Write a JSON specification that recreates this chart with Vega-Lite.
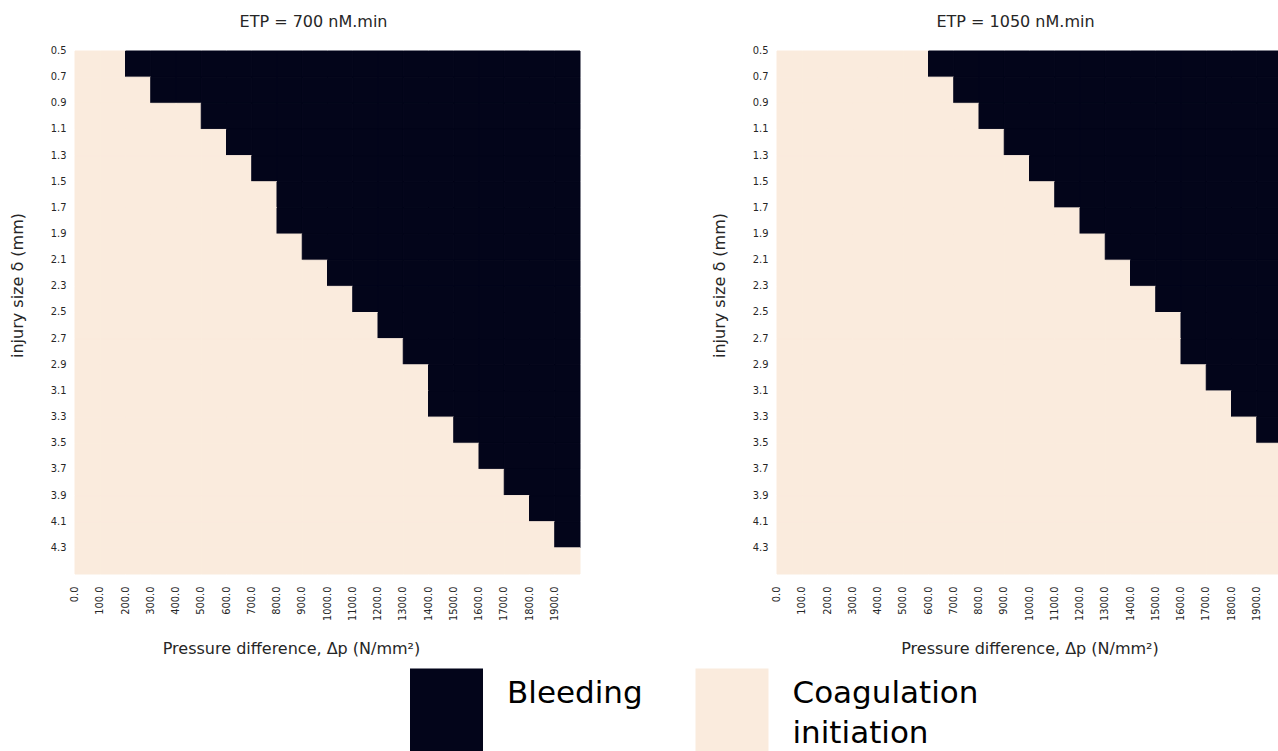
{
"$schema":"https://vega.github.io/schema/vega-lite/v6.json",
"background":"white",
"padding":{"left":9,"top":13,"right":0,"bottom":0},
"config":{
 "view":{"stroke":null},
 "font":"DejaVu Sans",
 "axis":{"labelFont":"DejaVu Sans","labelFontSize":9.9,"labelColor":"#262626","titleFont":"DejaVu Sans","titleFontSize":16,"titleFontWeight":"normal","titleColor":"#262626","ticks":false,"domain":false,"grid":false},
 "style":{"guide-label":{"lineHeight":40}},
 "title":{"font":"DejaVu Sans","fontSize":16,"fontWeight":"normal","color":"#262626","offset":15.5,"dx":-14}
},
"data":{"values":[
{"e":700,"p":0,"d":0.5,"b":0},{"e":700,"p":100,"d":0.5,"b":0},{"e":700,"p":200,"d":0.5,"b":1},{"e":700,"p":300,"d":0.5,"b":1},{"e":700,"p":400,"d":0.5,"b":1},{"e":700,"p":500,"d":0.5,"b":1},{"e":700,"p":600,"d":0.5,"b":1},{"e":700,"p":700,"d":0.5,"b":1},{"e":700,"p":800,"d":0.5,"b":1},{"e":700,"p":900,"d":0.5,"b":1},{"e":700,"p":1000,"d":0.5,"b":1},{"e":700,"p":1100,"d":0.5,"b":1},{"e":700,"p":1200,"d":0.5,"b":1},{"e":700,"p":1300,"d":0.5,"b":1},{"e":700,"p":1400,"d":0.5,"b":1},{"e":700,"p":1500,"d":0.5,"b":1},{"e":700,"p":1600,"d":0.5,"b":1},{"e":700,"p":1700,"d":0.5,"b":1},{"e":700,"p":1800,"d":0.5,"b":1},{"e":700,"p":1900,"d":0.5,"b":1},
{"e":700,"p":0,"d":0.7,"b":0},{"e":700,"p":100,"d":0.7,"b":0},{"e":700,"p":200,"d":0.7,"b":0},{"e":700,"p":300,"d":0.7,"b":1},{"e":700,"p":400,"d":0.7,"b":1},{"e":700,"p":500,"d":0.7,"b":1},{"e":700,"p":600,"d":0.7,"b":1},{"e":700,"p":700,"d":0.7,"b":1},{"e":700,"p":800,"d":0.7,"b":1},{"e":700,"p":900,"d":0.7,"b":1},{"e":700,"p":1000,"d":0.7,"b":1},{"e":700,"p":1100,"d":0.7,"b":1},{"e":700,"p":1200,"d":0.7,"b":1},{"e":700,"p":1300,"d":0.7,"b":1},{"e":700,"p":1400,"d":0.7,"b":1},{"e":700,"p":1500,"d":0.7,"b":1},{"e":700,"p":1600,"d":0.7,"b":1},{"e":700,"p":1700,"d":0.7,"b":1},{"e":700,"p":1800,"d":0.7,"b":1},{"e":700,"p":1900,"d":0.7,"b":1},
{"e":700,"p":0,"d":0.9,"b":0},{"e":700,"p":100,"d":0.9,"b":0},{"e":700,"p":200,"d":0.9,"b":0},{"e":700,"p":300,"d":0.9,"b":0},{"e":700,"p":400,"d":0.9,"b":0},{"e":700,"p":500,"d":0.9,"b":1},{"e":700,"p":600,"d":0.9,"b":1},{"e":700,"p":700,"d":0.9,"b":1},{"e":700,"p":800,"d":0.9,"b":1},{"e":700,"p":900,"d":0.9,"b":1},{"e":700,"p":1000,"d":0.9,"b":1},{"e":700,"p":1100,"d":0.9,"b":1},{"e":700,"p":1200,"d":0.9,"b":1},{"e":700,"p":1300,"d":0.9,"b":1},{"e":700,"p":1400,"d":0.9,"b":1},{"e":700,"p":1500,"d":0.9,"b":1},{"e":700,"p":1600,"d":0.9,"b":1},{"e":700,"p":1700,"d":0.9,"b":1},{"e":700,"p":1800,"d":0.9,"b":1},{"e":700,"p":1900,"d":0.9,"b":1},
{"e":700,"p":0,"d":1.1,"b":0},{"e":700,"p":100,"d":1.1,"b":0},{"e":700,"p":200,"d":1.1,"b":0},{"e":700,"p":300,"d":1.1,"b":0},{"e":700,"p":400,"d":1.1,"b":0},{"e":700,"p":500,"d":1.1,"b":0},{"e":700,"p":600,"d":1.1,"b":1},{"e":700,"p":700,"d":1.1,"b":1},{"e":700,"p":800,"d":1.1,"b":1},{"e":700,"p":900,"d":1.1,"b":1},{"e":700,"p":1000,"d":1.1,"b":1},{"e":700,"p":1100,"d":1.1,"b":1},{"e":700,"p":1200,"d":1.1,"b":1},{"e":700,"p":1300,"d":1.1,"b":1},{"e":700,"p":1400,"d":1.1,"b":1},{"e":700,"p":1500,"d":1.1,"b":1},{"e":700,"p":1600,"d":1.1,"b":1},{"e":700,"p":1700,"d":1.1,"b":1},{"e":700,"p":1800,"d":1.1,"b":1},{"e":700,"p":1900,"d":1.1,"b":1},
{"e":700,"p":0,"d":1.3,"b":0},{"e":700,"p":100,"d":1.3,"b":0},{"e":700,"p":200,"d":1.3,"b":0},{"e":700,"p":300,"d":1.3,"b":0},{"e":700,"p":400,"d":1.3,"b":0},{"e":700,"p":500,"d":1.3,"b":0},{"e":700,"p":600,"d":1.3,"b":0},{"e":700,"p":700,"d":1.3,"b":1},{"e":700,"p":800,"d":1.3,"b":1},{"e":700,"p":900,"d":1.3,"b":1},{"e":700,"p":1000,"d":1.3,"b":1},{"e":700,"p":1100,"d":1.3,"b":1},{"e":700,"p":1200,"d":1.3,"b":1},{"e":700,"p":1300,"d":1.3,"b":1},{"e":700,"p":1400,"d":1.3,"b":1},{"e":700,"p":1500,"d":1.3,"b":1},{"e":700,"p":1600,"d":1.3,"b":1},{"e":700,"p":1700,"d":1.3,"b":1},{"e":700,"p":1800,"d":1.3,"b":1},{"e":700,"p":1900,"d":1.3,"b":1},
{"e":700,"p":0,"d":1.5,"b":0},{"e":700,"p":100,"d":1.5,"b":0},{"e":700,"p":200,"d":1.5,"b":0},{"e":700,"p":300,"d":1.5,"b":0},{"e":700,"p":400,"d":1.5,"b":0},{"e":700,"p":500,"d":1.5,"b":0},{"e":700,"p":600,"d":1.5,"b":0},{"e":700,"p":700,"d":1.5,"b":0},{"e":700,"p":800,"d":1.5,"b":1},{"e":700,"p":900,"d":1.5,"b":1},{"e":700,"p":1000,"d":1.5,"b":1},{"e":700,"p":1100,"d":1.5,"b":1},{"e":700,"p":1200,"d":1.5,"b":1},{"e":700,"p":1300,"d":1.5,"b":1},{"e":700,"p":1400,"d":1.5,"b":1},{"e":700,"p":1500,"d":1.5,"b":1},{"e":700,"p":1600,"d":1.5,"b":1},{"e":700,"p":1700,"d":1.5,"b":1},{"e":700,"p":1800,"d":1.5,"b":1},{"e":700,"p":1900,"d":1.5,"b":1},
{"e":700,"p":0,"d":1.7,"b":0},{"e":700,"p":100,"d":1.7,"b":0},{"e":700,"p":200,"d":1.7,"b":0},{"e":700,"p":300,"d":1.7,"b":0},{"e":700,"p":400,"d":1.7,"b":0},{"e":700,"p":500,"d":1.7,"b":0},{"e":700,"p":600,"d":1.7,"b":0},{"e":700,"p":700,"d":1.7,"b":0},{"e":700,"p":800,"d":1.7,"b":1},{"e":700,"p":900,"d":1.7,"b":1},{"e":700,"p":1000,"d":1.7,"b":1},{"e":700,"p":1100,"d":1.7,"b":1},{"e":700,"p":1200,"d":1.7,"b":1},{"e":700,"p":1300,"d":1.7,"b":1},{"e":700,"p":1400,"d":1.7,"b":1},{"e":700,"p":1500,"d":1.7,"b":1},{"e":700,"p":1600,"d":1.7,"b":1},{"e":700,"p":1700,"d":1.7,"b":1},{"e":700,"p":1800,"d":1.7,"b":1},{"e":700,"p":1900,"d":1.7,"b":1},
{"e":700,"p":0,"d":1.9,"b":0},{"e":700,"p":100,"d":1.9,"b":0},{"e":700,"p":200,"d":1.9,"b":0},{"e":700,"p":300,"d":1.9,"b":0},{"e":700,"p":400,"d":1.9,"b":0},{"e":700,"p":500,"d":1.9,"b":0},{"e":700,"p":600,"d":1.9,"b":0},{"e":700,"p":700,"d":1.9,"b":0},{"e":700,"p":800,"d":1.9,"b":0},{"e":700,"p":900,"d":1.9,"b":1},{"e":700,"p":1000,"d":1.9,"b":1},{"e":700,"p":1100,"d":1.9,"b":1},{"e":700,"p":1200,"d":1.9,"b":1},{"e":700,"p":1300,"d":1.9,"b":1},{"e":700,"p":1400,"d":1.9,"b":1},{"e":700,"p":1500,"d":1.9,"b":1},{"e":700,"p":1600,"d":1.9,"b":1},{"e":700,"p":1700,"d":1.9,"b":1},{"e":700,"p":1800,"d":1.9,"b":1},{"e":700,"p":1900,"d":1.9,"b":1},
{"e":700,"p":0,"d":2.1,"b":0},{"e":700,"p":100,"d":2.1,"b":0},{"e":700,"p":200,"d":2.1,"b":0},{"e":700,"p":300,"d":2.1,"b":0},{"e":700,"p":400,"d":2.1,"b":0},{"e":700,"p":500,"d":2.1,"b":0},{"e":700,"p":600,"d":2.1,"b":0},{"e":700,"p":700,"d":2.1,"b":0},{"e":700,"p":800,"d":2.1,"b":0},{"e":700,"p":900,"d":2.1,"b":0},{"e":700,"p":1000,"d":2.1,"b":1},{"e":700,"p":1100,"d":2.1,"b":1},{"e":700,"p":1200,"d":2.1,"b":1},{"e":700,"p":1300,"d":2.1,"b":1},{"e":700,"p":1400,"d":2.1,"b":1},{"e":700,"p":1500,"d":2.1,"b":1},{"e":700,"p":1600,"d":2.1,"b":1},{"e":700,"p":1700,"d":2.1,"b":1},{"e":700,"p":1800,"d":2.1,"b":1},{"e":700,"p":1900,"d":2.1,"b":1},
{"e":700,"p":0,"d":2.3,"b":0},{"e":700,"p":100,"d":2.3,"b":0},{"e":700,"p":200,"d":2.3,"b":0},{"e":700,"p":300,"d":2.3,"b":0},{"e":700,"p":400,"d":2.3,"b":0},{"e":700,"p":500,"d":2.3,"b":0},{"e":700,"p":600,"d":2.3,"b":0},{"e":700,"p":700,"d":2.3,"b":0},{"e":700,"p":800,"d":2.3,"b":0},{"e":700,"p":900,"d":2.3,"b":0},{"e":700,"p":1000,"d":2.3,"b":0},{"e":700,"p":1100,"d":2.3,"b":1},{"e":700,"p":1200,"d":2.3,"b":1},{"e":700,"p":1300,"d":2.3,"b":1},{"e":700,"p":1400,"d":2.3,"b":1},{"e":700,"p":1500,"d":2.3,"b":1},{"e":700,"p":1600,"d":2.3,"b":1},{"e":700,"p":1700,"d":2.3,"b":1},{"e":700,"p":1800,"d":2.3,"b":1},{"e":700,"p":1900,"d":2.3,"b":1},
{"e":700,"p":0,"d":2.5,"b":0},{"e":700,"p":100,"d":2.5,"b":0},{"e":700,"p":200,"d":2.5,"b":0},{"e":700,"p":300,"d":2.5,"b":0},{"e":700,"p":400,"d":2.5,"b":0},{"e":700,"p":500,"d":2.5,"b":0},{"e":700,"p":600,"d":2.5,"b":0},{"e":700,"p":700,"d":2.5,"b":0},{"e":700,"p":800,"d":2.5,"b":0},{"e":700,"p":900,"d":2.5,"b":0},{"e":700,"p":1000,"d":2.5,"b":0},{"e":700,"p":1100,"d":2.5,"b":0},{"e":700,"p":1200,"d":2.5,"b":1},{"e":700,"p":1300,"d":2.5,"b":1},{"e":700,"p":1400,"d":2.5,"b":1},{"e":700,"p":1500,"d":2.5,"b":1},{"e":700,"p":1600,"d":2.5,"b":1},{"e":700,"p":1700,"d":2.5,"b":1},{"e":700,"p":1800,"d":2.5,"b":1},{"e":700,"p":1900,"d":2.5,"b":1},
{"e":700,"p":0,"d":2.7,"b":0},{"e":700,"p":100,"d":2.7,"b":0},{"e":700,"p":200,"d":2.7,"b":0},{"e":700,"p":300,"d":2.7,"b":0},{"e":700,"p":400,"d":2.7,"b":0},{"e":700,"p":500,"d":2.7,"b":0},{"e":700,"p":600,"d":2.7,"b":0},{"e":700,"p":700,"d":2.7,"b":0},{"e":700,"p":800,"d":2.7,"b":0},{"e":700,"p":900,"d":2.7,"b":0},{"e":700,"p":1000,"d":2.7,"b":0},{"e":700,"p":1100,"d":2.7,"b":0},{"e":700,"p":1200,"d":2.7,"b":0},{"e":700,"p":1300,"d":2.7,"b":1},{"e":700,"p":1400,"d":2.7,"b":1},{"e":700,"p":1500,"d":2.7,"b":1},{"e":700,"p":1600,"d":2.7,"b":1},{"e":700,"p":1700,"d":2.7,"b":1},{"e":700,"p":1800,"d":2.7,"b":1},{"e":700,"p":1900,"d":2.7,"b":1},
{"e":700,"p":0,"d":2.9,"b":0},{"e":700,"p":100,"d":2.9,"b":0},{"e":700,"p":200,"d":2.9,"b":0},{"e":700,"p":300,"d":2.9,"b":0},{"e":700,"p":400,"d":2.9,"b":0},{"e":700,"p":500,"d":2.9,"b":0},{"e":700,"p":600,"d":2.9,"b":0},{"e":700,"p":700,"d":2.9,"b":0},{"e":700,"p":800,"d":2.9,"b":0},{"e":700,"p":900,"d":2.9,"b":0},{"e":700,"p":1000,"d":2.9,"b":0},{"e":700,"p":1100,"d":2.9,"b":0},{"e":700,"p":1200,"d":2.9,"b":0},{"e":700,"p":1300,"d":2.9,"b":0},{"e":700,"p":1400,"d":2.9,"b":1},{"e":700,"p":1500,"d":2.9,"b":1},{"e":700,"p":1600,"d":2.9,"b":1},{"e":700,"p":1700,"d":2.9,"b":1},{"e":700,"p":1800,"d":2.9,"b":1},{"e":700,"p":1900,"d":2.9,"b":1},
{"e":700,"p":0,"d":3.1,"b":0},{"e":700,"p":100,"d":3.1,"b":0},{"e":700,"p":200,"d":3.1,"b":0},{"e":700,"p":300,"d":3.1,"b":0},{"e":700,"p":400,"d":3.1,"b":0},{"e":700,"p":500,"d":3.1,"b":0},{"e":700,"p":600,"d":3.1,"b":0},{"e":700,"p":700,"d":3.1,"b":0},{"e":700,"p":800,"d":3.1,"b":0},{"e":700,"p":900,"d":3.1,"b":0},{"e":700,"p":1000,"d":3.1,"b":0},{"e":700,"p":1100,"d":3.1,"b":0},{"e":700,"p":1200,"d":3.1,"b":0},{"e":700,"p":1300,"d":3.1,"b":0},{"e":700,"p":1400,"d":3.1,"b":1},{"e":700,"p":1500,"d":3.1,"b":1},{"e":700,"p":1600,"d":3.1,"b":1},{"e":700,"p":1700,"d":3.1,"b":1},{"e":700,"p":1800,"d":3.1,"b":1},{"e":700,"p":1900,"d":3.1,"b":1},
{"e":700,"p":0,"d":3.3,"b":0},{"e":700,"p":100,"d":3.3,"b":0},{"e":700,"p":200,"d":3.3,"b":0},{"e":700,"p":300,"d":3.3,"b":0},{"e":700,"p":400,"d":3.3,"b":0},{"e":700,"p":500,"d":3.3,"b":0},{"e":700,"p":600,"d":3.3,"b":0},{"e":700,"p":700,"d":3.3,"b":0},{"e":700,"p":800,"d":3.3,"b":0},{"e":700,"p":900,"d":3.3,"b":0},{"e":700,"p":1000,"d":3.3,"b":0},{"e":700,"p":1100,"d":3.3,"b":0},{"e":700,"p":1200,"d":3.3,"b":0},{"e":700,"p":1300,"d":3.3,"b":0},{"e":700,"p":1400,"d":3.3,"b":0},{"e":700,"p":1500,"d":3.3,"b":1},{"e":700,"p":1600,"d":3.3,"b":1},{"e":700,"p":1700,"d":3.3,"b":1},{"e":700,"p":1800,"d":3.3,"b":1},{"e":700,"p":1900,"d":3.3,"b":1},
{"e":700,"p":0,"d":3.5,"b":0},{"e":700,"p":100,"d":3.5,"b":0},{"e":700,"p":200,"d":3.5,"b":0},{"e":700,"p":300,"d":3.5,"b":0},{"e":700,"p":400,"d":3.5,"b":0},{"e":700,"p":500,"d":3.5,"b":0},{"e":700,"p":600,"d":3.5,"b":0},{"e":700,"p":700,"d":3.5,"b":0},{"e":700,"p":800,"d":3.5,"b":0},{"e":700,"p":900,"d":3.5,"b":0},{"e":700,"p":1000,"d":3.5,"b":0},{"e":700,"p":1100,"d":3.5,"b":0},{"e":700,"p":1200,"d":3.5,"b":0},{"e":700,"p":1300,"d":3.5,"b":0},{"e":700,"p":1400,"d":3.5,"b":0},{"e":700,"p":1500,"d":3.5,"b":0},{"e":700,"p":1600,"d":3.5,"b":1},{"e":700,"p":1700,"d":3.5,"b":1},{"e":700,"p":1800,"d":3.5,"b":1},{"e":700,"p":1900,"d":3.5,"b":1},
{"e":700,"p":0,"d":3.7,"b":0},{"e":700,"p":100,"d":3.7,"b":0},{"e":700,"p":200,"d":3.7,"b":0},{"e":700,"p":300,"d":3.7,"b":0},{"e":700,"p":400,"d":3.7,"b":0},{"e":700,"p":500,"d":3.7,"b":0},{"e":700,"p":600,"d":3.7,"b":0},{"e":700,"p":700,"d":3.7,"b":0},{"e":700,"p":800,"d":3.7,"b":0},{"e":700,"p":900,"d":3.7,"b":0},{"e":700,"p":1000,"d":3.7,"b":0},{"e":700,"p":1100,"d":3.7,"b":0},{"e":700,"p":1200,"d":3.7,"b":0},{"e":700,"p":1300,"d":3.7,"b":0},{"e":700,"p":1400,"d":3.7,"b":0},{"e":700,"p":1500,"d":3.7,"b":0},{"e":700,"p":1600,"d":3.7,"b":0},{"e":700,"p":1700,"d":3.7,"b":1},{"e":700,"p":1800,"d":3.7,"b":1},{"e":700,"p":1900,"d":3.7,"b":1},
{"e":700,"p":0,"d":3.9,"b":0},{"e":700,"p":100,"d":3.9,"b":0},{"e":700,"p":200,"d":3.9,"b":0},{"e":700,"p":300,"d":3.9,"b":0},{"e":700,"p":400,"d":3.9,"b":0},{"e":700,"p":500,"d":3.9,"b":0},{"e":700,"p":600,"d":3.9,"b":0},{"e":700,"p":700,"d":3.9,"b":0},{"e":700,"p":800,"d":3.9,"b":0},{"e":700,"p":900,"d":3.9,"b":0},{"e":700,"p":1000,"d":3.9,"b":0},{"e":700,"p":1100,"d":3.9,"b":0},{"e":700,"p":1200,"d":3.9,"b":0},{"e":700,"p":1300,"d":3.9,"b":0},{"e":700,"p":1400,"d":3.9,"b":0},{"e":700,"p":1500,"d":3.9,"b":0},{"e":700,"p":1600,"d":3.9,"b":0},{"e":700,"p":1700,"d":3.9,"b":0},{"e":700,"p":1800,"d":3.9,"b":1},{"e":700,"p":1900,"d":3.9,"b":1},
{"e":700,"p":0,"d":4.1,"b":0},{"e":700,"p":100,"d":4.1,"b":0},{"e":700,"p":200,"d":4.1,"b":0},{"e":700,"p":300,"d":4.1,"b":0},{"e":700,"p":400,"d":4.1,"b":0},{"e":700,"p":500,"d":4.1,"b":0},{"e":700,"p":600,"d":4.1,"b":0},{"e":700,"p":700,"d":4.1,"b":0},{"e":700,"p":800,"d":4.1,"b":0},{"e":700,"p":900,"d":4.1,"b":0},{"e":700,"p":1000,"d":4.1,"b":0},{"e":700,"p":1100,"d":4.1,"b":0},{"e":700,"p":1200,"d":4.1,"b":0},{"e":700,"p":1300,"d":4.1,"b":0},{"e":700,"p":1400,"d":4.1,"b":0},{"e":700,"p":1500,"d":4.1,"b":0},{"e":700,"p":1600,"d":4.1,"b":0},{"e":700,"p":1700,"d":4.1,"b":0},{"e":700,"p":1800,"d":4.1,"b":0},{"e":700,"p":1900,"d":4.1,"b":1},
{"e":700,"p":0,"d":4.3,"b":0},{"e":700,"p":100,"d":4.3,"b":0},{"e":700,"p":200,"d":4.3,"b":0},{"e":700,"p":300,"d":4.3,"b":0},{"e":700,"p":400,"d":4.3,"b":0},{"e":700,"p":500,"d":4.3,"b":0},{"e":700,"p":600,"d":4.3,"b":0},{"e":700,"p":700,"d":4.3,"b":0},{"e":700,"p":800,"d":4.3,"b":0},{"e":700,"p":900,"d":4.3,"b":0},{"e":700,"p":1000,"d":4.3,"b":0},{"e":700,"p":1100,"d":4.3,"b":0},{"e":700,"p":1200,"d":4.3,"b":0},{"e":700,"p":1300,"d":4.3,"b":0},{"e":700,"p":1400,"d":4.3,"b":0},{"e":700,"p":1500,"d":4.3,"b":0},{"e":700,"p":1600,"d":4.3,"b":0},{"e":700,"p":1700,"d":4.3,"b":0},{"e":700,"p":1800,"d":4.3,"b":0},{"e":700,"p":1900,"d":4.3,"b":0},
{"e":1050,"p":0,"d":0.5,"b":0},{"e":1050,"p":100,"d":0.5,"b":0},{"e":1050,"p":200,"d":0.5,"b":0},{"e":1050,"p":300,"d":0.5,"b":0},{"e":1050,"p":400,"d":0.5,"b":0},{"e":1050,"p":500,"d":0.5,"b":0},{"e":1050,"p":600,"d":0.5,"b":1},{"e":1050,"p":700,"d":0.5,"b":1},{"e":1050,"p":800,"d":0.5,"b":1},{"e":1050,"p":900,"d":0.5,"b":1},{"e":1050,"p":1000,"d":0.5,"b":1},{"e":1050,"p":1100,"d":0.5,"b":1},{"e":1050,"p":1200,"d":0.5,"b":1},{"e":1050,"p":1300,"d":0.5,"b":1},{"e":1050,"p":1400,"d":0.5,"b":1},{"e":1050,"p":1500,"d":0.5,"b":1},{"e":1050,"p":1600,"d":0.5,"b":1},{"e":1050,"p":1700,"d":0.5,"b":1},{"e":1050,"p":1800,"d":0.5,"b":1},{"e":1050,"p":1900,"d":0.5,"b":1},
{"e":1050,"p":0,"d":0.7,"b":0},{"e":1050,"p":100,"d":0.7,"b":0},{"e":1050,"p":200,"d":0.7,"b":0},{"e":1050,"p":300,"d":0.7,"b":0},{"e":1050,"p":400,"d":0.7,"b":0},{"e":1050,"p":500,"d":0.7,"b":0},{"e":1050,"p":600,"d":0.7,"b":0},{"e":1050,"p":700,"d":0.7,"b":1},{"e":1050,"p":800,"d":0.7,"b":1},{"e":1050,"p":900,"d":0.7,"b":1},{"e":1050,"p":1000,"d":0.7,"b":1},{"e":1050,"p":1100,"d":0.7,"b":1},{"e":1050,"p":1200,"d":0.7,"b":1},{"e":1050,"p":1300,"d":0.7,"b":1},{"e":1050,"p":1400,"d":0.7,"b":1},{"e":1050,"p":1500,"d":0.7,"b":1},{"e":1050,"p":1600,"d":0.7,"b":1},{"e":1050,"p":1700,"d":0.7,"b":1},{"e":1050,"p":1800,"d":0.7,"b":1},{"e":1050,"p":1900,"d":0.7,"b":1},
{"e":1050,"p":0,"d":0.9,"b":0},{"e":1050,"p":100,"d":0.9,"b":0},{"e":1050,"p":200,"d":0.9,"b":0},{"e":1050,"p":300,"d":0.9,"b":0},{"e":1050,"p":400,"d":0.9,"b":0},{"e":1050,"p":500,"d":0.9,"b":0},{"e":1050,"p":600,"d":0.9,"b":0},{"e":1050,"p":700,"d":0.9,"b":0},{"e":1050,"p":800,"d":0.9,"b":1},{"e":1050,"p":900,"d":0.9,"b":1},{"e":1050,"p":1000,"d":0.9,"b":1},{"e":1050,"p":1100,"d":0.9,"b":1},{"e":1050,"p":1200,"d":0.9,"b":1},{"e":1050,"p":1300,"d":0.9,"b":1},{"e":1050,"p":1400,"d":0.9,"b":1},{"e":1050,"p":1500,"d":0.9,"b":1},{"e":1050,"p":1600,"d":0.9,"b":1},{"e":1050,"p":1700,"d":0.9,"b":1},{"e":1050,"p":1800,"d":0.9,"b":1},{"e":1050,"p":1900,"d":0.9,"b":1},
{"e":1050,"p":0,"d":1.1,"b":0},{"e":1050,"p":100,"d":1.1,"b":0},{"e":1050,"p":200,"d":1.1,"b":0},{"e":1050,"p":300,"d":1.1,"b":0},{"e":1050,"p":400,"d":1.1,"b":0},{"e":1050,"p":500,"d":1.1,"b":0},{"e":1050,"p":600,"d":1.1,"b":0},{"e":1050,"p":700,"d":1.1,"b":0},{"e":1050,"p":800,"d":1.1,"b":0},{"e":1050,"p":900,"d":1.1,"b":1},{"e":1050,"p":1000,"d":1.1,"b":1},{"e":1050,"p":1100,"d":1.1,"b":1},{"e":1050,"p":1200,"d":1.1,"b":1},{"e":1050,"p":1300,"d":1.1,"b":1},{"e":1050,"p":1400,"d":1.1,"b":1},{"e":1050,"p":1500,"d":1.1,"b":1},{"e":1050,"p":1600,"d":1.1,"b":1},{"e":1050,"p":1700,"d":1.1,"b":1},{"e":1050,"p":1800,"d":1.1,"b":1},{"e":1050,"p":1900,"d":1.1,"b":1},
{"e":1050,"p":0,"d":1.3,"b":0},{"e":1050,"p":100,"d":1.3,"b":0},{"e":1050,"p":200,"d":1.3,"b":0},{"e":1050,"p":300,"d":1.3,"b":0},{"e":1050,"p":400,"d":1.3,"b":0},{"e":1050,"p":500,"d":1.3,"b":0},{"e":1050,"p":600,"d":1.3,"b":0},{"e":1050,"p":700,"d":1.3,"b":0},{"e":1050,"p":800,"d":1.3,"b":0},{"e":1050,"p":900,"d":1.3,"b":0},{"e":1050,"p":1000,"d":1.3,"b":1},{"e":1050,"p":1100,"d":1.3,"b":1},{"e":1050,"p":1200,"d":1.3,"b":1},{"e":1050,"p":1300,"d":1.3,"b":1},{"e":1050,"p":1400,"d":1.3,"b":1},{"e":1050,"p":1500,"d":1.3,"b":1},{"e":1050,"p":1600,"d":1.3,"b":1},{"e":1050,"p":1700,"d":1.3,"b":1},{"e":1050,"p":1800,"d":1.3,"b":1},{"e":1050,"p":1900,"d":1.3,"b":1},
{"e":1050,"p":0,"d":1.5,"b":0},{"e":1050,"p":100,"d":1.5,"b":0},{"e":1050,"p":200,"d":1.5,"b":0},{"e":1050,"p":300,"d":1.5,"b":0},{"e":1050,"p":400,"d":1.5,"b":0},{"e":1050,"p":500,"d":1.5,"b":0},{"e":1050,"p":600,"d":1.5,"b":0},{"e":1050,"p":700,"d":1.5,"b":0},{"e":1050,"p":800,"d":1.5,"b":0},{"e":1050,"p":900,"d":1.5,"b":0},{"e":1050,"p":1000,"d":1.5,"b":0},{"e":1050,"p":1100,"d":1.5,"b":1},{"e":1050,"p":1200,"d":1.5,"b":1},{"e":1050,"p":1300,"d":1.5,"b":1},{"e":1050,"p":1400,"d":1.5,"b":1},{"e":1050,"p":1500,"d":1.5,"b":1},{"e":1050,"p":1600,"d":1.5,"b":1},{"e":1050,"p":1700,"d":1.5,"b":1},{"e":1050,"p":1800,"d":1.5,"b":1},{"e":1050,"p":1900,"d":1.5,"b":1},
{"e":1050,"p":0,"d":1.7,"b":0},{"e":1050,"p":100,"d":1.7,"b":0},{"e":1050,"p":200,"d":1.7,"b":0},{"e":1050,"p":300,"d":1.7,"b":0},{"e":1050,"p":400,"d":1.7,"b":0},{"e":1050,"p":500,"d":1.7,"b":0},{"e":1050,"p":600,"d":1.7,"b":0},{"e":1050,"p":700,"d":1.7,"b":0},{"e":1050,"p":800,"d":1.7,"b":0},{"e":1050,"p":900,"d":1.7,"b":0},{"e":1050,"p":1000,"d":1.7,"b":0},{"e":1050,"p":1100,"d":1.7,"b":0},{"e":1050,"p":1200,"d":1.7,"b":1},{"e":1050,"p":1300,"d":1.7,"b":1},{"e":1050,"p":1400,"d":1.7,"b":1},{"e":1050,"p":1500,"d":1.7,"b":1},{"e":1050,"p":1600,"d":1.7,"b":1},{"e":1050,"p":1700,"d":1.7,"b":1},{"e":1050,"p":1800,"d":1.7,"b":1},{"e":1050,"p":1900,"d":1.7,"b":1},
{"e":1050,"p":0,"d":1.9,"b":0},{"e":1050,"p":100,"d":1.9,"b":0},{"e":1050,"p":200,"d":1.9,"b":0},{"e":1050,"p":300,"d":1.9,"b":0},{"e":1050,"p":400,"d":1.9,"b":0},{"e":1050,"p":500,"d":1.9,"b":0},{"e":1050,"p":600,"d":1.9,"b":0},{"e":1050,"p":700,"d":1.9,"b":0},{"e":1050,"p":800,"d":1.9,"b":0},{"e":1050,"p":900,"d":1.9,"b":0},{"e":1050,"p":1000,"d":1.9,"b":0},{"e":1050,"p":1100,"d":1.9,"b":0},{"e":1050,"p":1200,"d":1.9,"b":0},{"e":1050,"p":1300,"d":1.9,"b":1},{"e":1050,"p":1400,"d":1.9,"b":1},{"e":1050,"p":1500,"d":1.9,"b":1},{"e":1050,"p":1600,"d":1.9,"b":1},{"e":1050,"p":1700,"d":1.9,"b":1},{"e":1050,"p":1800,"d":1.9,"b":1},{"e":1050,"p":1900,"d":1.9,"b":1},
{"e":1050,"p":0,"d":2.1,"b":0},{"e":1050,"p":100,"d":2.1,"b":0},{"e":1050,"p":200,"d":2.1,"b":0},{"e":1050,"p":300,"d":2.1,"b":0},{"e":1050,"p":400,"d":2.1,"b":0},{"e":1050,"p":500,"d":2.1,"b":0},{"e":1050,"p":600,"d":2.1,"b":0},{"e":1050,"p":700,"d":2.1,"b":0},{"e":1050,"p":800,"d":2.1,"b":0},{"e":1050,"p":900,"d":2.1,"b":0},{"e":1050,"p":1000,"d":2.1,"b":0},{"e":1050,"p":1100,"d":2.1,"b":0},{"e":1050,"p":1200,"d":2.1,"b":0},{"e":1050,"p":1300,"d":2.1,"b":0},{"e":1050,"p":1400,"d":2.1,"b":1},{"e":1050,"p":1500,"d":2.1,"b":1},{"e":1050,"p":1600,"d":2.1,"b":1},{"e":1050,"p":1700,"d":2.1,"b":1},{"e":1050,"p":1800,"d":2.1,"b":1},{"e":1050,"p":1900,"d":2.1,"b":1},
{"e":1050,"p":0,"d":2.3,"b":0},{"e":1050,"p":100,"d":2.3,"b":0},{"e":1050,"p":200,"d":2.3,"b":0},{"e":1050,"p":300,"d":2.3,"b":0},{"e":1050,"p":400,"d":2.3,"b":0},{"e":1050,"p":500,"d":2.3,"b":0},{"e":1050,"p":600,"d":2.3,"b":0},{"e":1050,"p":700,"d":2.3,"b":0},{"e":1050,"p":800,"d":2.3,"b":0},{"e":1050,"p":900,"d":2.3,"b":0},{"e":1050,"p":1000,"d":2.3,"b":0},{"e":1050,"p":1100,"d":2.3,"b":0},{"e":1050,"p":1200,"d":2.3,"b":0},{"e":1050,"p":1300,"d":2.3,"b":0},{"e":1050,"p":1400,"d":2.3,"b":0},{"e":1050,"p":1500,"d":2.3,"b":1},{"e":1050,"p":1600,"d":2.3,"b":1},{"e":1050,"p":1700,"d":2.3,"b":1},{"e":1050,"p":1800,"d":2.3,"b":1},{"e":1050,"p":1900,"d":2.3,"b":1},
{"e":1050,"p":0,"d":2.5,"b":0},{"e":1050,"p":100,"d":2.5,"b":0},{"e":1050,"p":200,"d":2.5,"b":0},{"e":1050,"p":300,"d":2.5,"b":0},{"e":1050,"p":400,"d":2.5,"b":0},{"e":1050,"p":500,"d":2.5,"b":0},{"e":1050,"p":600,"d":2.5,"b":0},{"e":1050,"p":700,"d":2.5,"b":0},{"e":1050,"p":800,"d":2.5,"b":0},{"e":1050,"p":900,"d":2.5,"b":0},{"e":1050,"p":1000,"d":2.5,"b":0},{"e":1050,"p":1100,"d":2.5,"b":0},{"e":1050,"p":1200,"d":2.5,"b":0},{"e":1050,"p":1300,"d":2.5,"b":0},{"e":1050,"p":1400,"d":2.5,"b":0},{"e":1050,"p":1500,"d":2.5,"b":0},{"e":1050,"p":1600,"d":2.5,"b":1},{"e":1050,"p":1700,"d":2.5,"b":1},{"e":1050,"p":1800,"d":2.5,"b":1},{"e":1050,"p":1900,"d":2.5,"b":1},
{"e":1050,"p":0,"d":2.7,"b":0},{"e":1050,"p":100,"d":2.7,"b":0},{"e":1050,"p":200,"d":2.7,"b":0},{"e":1050,"p":300,"d":2.7,"b":0},{"e":1050,"p":400,"d":2.7,"b":0},{"e":1050,"p":500,"d":2.7,"b":0},{"e":1050,"p":600,"d":2.7,"b":0},{"e":1050,"p":700,"d":2.7,"b":0},{"e":1050,"p":800,"d":2.7,"b":0},{"e":1050,"p":900,"d":2.7,"b":0},{"e":1050,"p":1000,"d":2.7,"b":0},{"e":1050,"p":1100,"d":2.7,"b":0},{"e":1050,"p":1200,"d":2.7,"b":0},{"e":1050,"p":1300,"d":2.7,"b":0},{"e":1050,"p":1400,"d":2.7,"b":0},{"e":1050,"p":1500,"d":2.7,"b":0},{"e":1050,"p":1600,"d":2.7,"b":1},{"e":1050,"p":1700,"d":2.7,"b":1},{"e":1050,"p":1800,"d":2.7,"b":1},{"e":1050,"p":1900,"d":2.7,"b":1},
{"e":1050,"p":0,"d":2.9,"b":0},{"e":1050,"p":100,"d":2.9,"b":0},{"e":1050,"p":200,"d":2.9,"b":0},{"e":1050,"p":300,"d":2.9,"b":0},{"e":1050,"p":400,"d":2.9,"b":0},{"e":1050,"p":500,"d":2.9,"b":0},{"e":1050,"p":600,"d":2.9,"b":0},{"e":1050,"p":700,"d":2.9,"b":0},{"e":1050,"p":800,"d":2.9,"b":0},{"e":1050,"p":900,"d":2.9,"b":0},{"e":1050,"p":1000,"d":2.9,"b":0},{"e":1050,"p":1100,"d":2.9,"b":0},{"e":1050,"p":1200,"d":2.9,"b":0},{"e":1050,"p":1300,"d":2.9,"b":0},{"e":1050,"p":1400,"d":2.9,"b":0},{"e":1050,"p":1500,"d":2.9,"b":0},{"e":1050,"p":1600,"d":2.9,"b":0},{"e":1050,"p":1700,"d":2.9,"b":1},{"e":1050,"p":1800,"d":2.9,"b":1},{"e":1050,"p":1900,"d":2.9,"b":1},
{"e":1050,"p":0,"d":3.1,"b":0},{"e":1050,"p":100,"d":3.1,"b":0},{"e":1050,"p":200,"d":3.1,"b":0},{"e":1050,"p":300,"d":3.1,"b":0},{"e":1050,"p":400,"d":3.1,"b":0},{"e":1050,"p":500,"d":3.1,"b":0},{"e":1050,"p":600,"d":3.1,"b":0},{"e":1050,"p":700,"d":3.1,"b":0},{"e":1050,"p":800,"d":3.1,"b":0},{"e":1050,"p":900,"d":3.1,"b":0},{"e":1050,"p":1000,"d":3.1,"b":0},{"e":1050,"p":1100,"d":3.1,"b":0},{"e":1050,"p":1200,"d":3.1,"b":0},{"e":1050,"p":1300,"d":3.1,"b":0},{"e":1050,"p":1400,"d":3.1,"b":0},{"e":1050,"p":1500,"d":3.1,"b":0},{"e":1050,"p":1600,"d":3.1,"b":0},{"e":1050,"p":1700,"d":3.1,"b":0},{"e":1050,"p":1800,"d":3.1,"b":1},{"e":1050,"p":1900,"d":3.1,"b":1},
{"e":1050,"p":0,"d":3.3,"b":0},{"e":1050,"p":100,"d":3.3,"b":0},{"e":1050,"p":200,"d":3.3,"b":0},{"e":1050,"p":300,"d":3.3,"b":0},{"e":1050,"p":400,"d":3.3,"b":0},{"e":1050,"p":500,"d":3.3,"b":0},{"e":1050,"p":600,"d":3.3,"b":0},{"e":1050,"p":700,"d":3.3,"b":0},{"e":1050,"p":800,"d":3.3,"b":0},{"e":1050,"p":900,"d":3.3,"b":0},{"e":1050,"p":1000,"d":3.3,"b":0},{"e":1050,"p":1100,"d":3.3,"b":0},{"e":1050,"p":1200,"d":3.3,"b":0},{"e":1050,"p":1300,"d":3.3,"b":0},{"e":1050,"p":1400,"d":3.3,"b":0},{"e":1050,"p":1500,"d":3.3,"b":0},{"e":1050,"p":1600,"d":3.3,"b":0},{"e":1050,"p":1700,"d":3.3,"b":0},{"e":1050,"p":1800,"d":3.3,"b":0},{"e":1050,"p":1900,"d":3.3,"b":1},
{"e":1050,"p":0,"d":3.5,"b":0},{"e":1050,"p":100,"d":3.5,"b":0},{"e":1050,"p":200,"d":3.5,"b":0},{"e":1050,"p":300,"d":3.5,"b":0},{"e":1050,"p":400,"d":3.5,"b":0},{"e":1050,"p":500,"d":3.5,"b":0},{"e":1050,"p":600,"d":3.5,"b":0},{"e":1050,"p":700,"d":3.5,"b":0},{"e":1050,"p":800,"d":3.5,"b":0},{"e":1050,"p":900,"d":3.5,"b":0},{"e":1050,"p":1000,"d":3.5,"b":0},{"e":1050,"p":1100,"d":3.5,"b":0},{"e":1050,"p":1200,"d":3.5,"b":0},{"e":1050,"p":1300,"d":3.5,"b":0},{"e":1050,"p":1400,"d":3.5,"b":0},{"e":1050,"p":1500,"d":3.5,"b":0},{"e":1050,"p":1600,"d":3.5,"b":0},{"e":1050,"p":1700,"d":3.5,"b":0},{"e":1050,"p":1800,"d":3.5,"b":0},{"e":1050,"p":1900,"d":3.5,"b":0},
{"e":1050,"p":0,"d":3.7,"b":0},{"e":1050,"p":100,"d":3.7,"b":0},{"e":1050,"p":200,"d":3.7,"b":0},{"e":1050,"p":300,"d":3.7,"b":0},{"e":1050,"p":400,"d":3.7,"b":0},{"e":1050,"p":500,"d":3.7,"b":0},{"e":1050,"p":600,"d":3.7,"b":0},{"e":1050,"p":700,"d":3.7,"b":0},{"e":1050,"p":800,"d":3.7,"b":0},{"e":1050,"p":900,"d":3.7,"b":0},{"e":1050,"p":1000,"d":3.7,"b":0},{"e":1050,"p":1100,"d":3.7,"b":0},{"e":1050,"p":1200,"d":3.7,"b":0},{"e":1050,"p":1300,"d":3.7,"b":0},{"e":1050,"p":1400,"d":3.7,"b":0},{"e":1050,"p":1500,"d":3.7,"b":0},{"e":1050,"p":1600,"d":3.7,"b":0},{"e":1050,"p":1700,"d":3.7,"b":0},{"e":1050,"p":1800,"d":3.7,"b":0},{"e":1050,"p":1900,"d":3.7,"b":0},
{"e":1050,"p":0,"d":3.9,"b":0},{"e":1050,"p":100,"d":3.9,"b":0},{"e":1050,"p":200,"d":3.9,"b":0},{"e":1050,"p":300,"d":3.9,"b":0},{"e":1050,"p":400,"d":3.9,"b":0},{"e":1050,"p":500,"d":3.9,"b":0},{"e":1050,"p":600,"d":3.9,"b":0},{"e":1050,"p":700,"d":3.9,"b":0},{"e":1050,"p":800,"d":3.9,"b":0},{"e":1050,"p":900,"d":3.9,"b":0},{"e":1050,"p":1000,"d":3.9,"b":0},{"e":1050,"p":1100,"d":3.9,"b":0},{"e":1050,"p":1200,"d":3.9,"b":0},{"e":1050,"p":1300,"d":3.9,"b":0},{"e":1050,"p":1400,"d":3.9,"b":0},{"e":1050,"p":1500,"d":3.9,"b":0},{"e":1050,"p":1600,"d":3.9,"b":0},{"e":1050,"p":1700,"d":3.9,"b":0},{"e":1050,"p":1800,"d":3.9,"b":0},{"e":1050,"p":1900,"d":3.9,"b":0},
{"e":1050,"p":0,"d":4.1,"b":0},{"e":1050,"p":100,"d":4.1,"b":0},{"e":1050,"p":200,"d":4.1,"b":0},{"e":1050,"p":300,"d":4.1,"b":0},{"e":1050,"p":400,"d":4.1,"b":0},{"e":1050,"p":500,"d":4.1,"b":0},{"e":1050,"p":600,"d":4.1,"b":0},{"e":1050,"p":700,"d":4.1,"b":0},{"e":1050,"p":800,"d":4.1,"b":0},{"e":1050,"p":900,"d":4.1,"b":0},{"e":1050,"p":1000,"d":4.1,"b":0},{"e":1050,"p":1100,"d":4.1,"b":0},{"e":1050,"p":1200,"d":4.1,"b":0},{"e":1050,"p":1300,"d":4.1,"b":0},{"e":1050,"p":1400,"d":4.1,"b":0},{"e":1050,"p":1500,"d":4.1,"b":0},{"e":1050,"p":1600,"d":4.1,"b":0},{"e":1050,"p":1700,"d":4.1,"b":0},{"e":1050,"p":1800,"d":4.1,"b":0},{"e":1050,"p":1900,"d":4.1,"b":0},
{"e":1050,"p":0,"d":4.3,"b":0},{"e":1050,"p":100,"d":4.3,"b":0},{"e":1050,"p":200,"d":4.3,"b":0},{"e":1050,"p":300,"d":4.3,"b":0},{"e":1050,"p":400,"d":4.3,"b":0},{"e":1050,"p":500,"d":4.3,"b":0},{"e":1050,"p":600,"d":4.3,"b":0},{"e":1050,"p":700,"d":4.3,"b":0},{"e":1050,"p":800,"d":4.3,"b":0},{"e":1050,"p":900,"d":4.3,"b":0},{"e":1050,"p":1000,"d":4.3,"b":0},{"e":1050,"p":1100,"d":4.3,"b":0},{"e":1050,"p":1200,"d":4.3,"b":0},{"e":1050,"p":1300,"d":4.3,"b":0},{"e":1050,"p":1400,"d":4.3,"b":0},{"e":1050,"p":1500,"d":4.3,"b":0},{"e":1050,"p":1600,"d":4.3,"b":0},{"e":1050,"p":1700,"d":4.3,"b":0},{"e":1050,"p":1800,"d":4.3,"b":0},{"e":1050,"p":1900,"d":4.3,"b":0}
]},
"spacing":130,
"hconcat":[
{"title":"ETP = 700 nM.min","width":505,"height":523,
 "transform":[{"filter":"datum.e == 700"}],
 "mark":{"type":"rect","strokeWidth":1},
 "encoding":{
  "x":{"field":"p","type":"ordinal","scale":{"paddingInner":0,"paddingOuter":0},"axis":{"title":"Pressure difference, Δp (N/mm²)","titleX":216,"labelExpr":"format(datum.value,'.1f')","labelAngle":-90,"labelOffset":-12.6,"labelPadding":12,"titlePadding":20,"labelOverlap":false}},
  "y":{"field":"d","type":"ordinal","scale":{"paddingInner":0,"paddingOuter":0},"axis":{"title":"injury size δ (mm)","titleY":234,"labelExpr":"format(datum.value,'.1f')","labelOffset":-13.1,"labelPadding":9,"titlePadding":25,"labelOverlap":false}},
  "fill":{"field":"b","type":"nominal","scale":{"domain":[1,0],"range":["#03051a","#faebdd"]},"legend":{"title":null,"orient":"none","legendX":329.5,"legendY":610,"direction":"horizontal","symbolType":"M-0.869,-0.833H0.869V1.43H-0.869Z","symbolSize":7056,"symbolStrokeWidth":0,"symbolOpacity":1,"labelFontSize":31,"labelFont":"DejaVu Sans","labelColor":"#000000","labelLimit":400,"labelOffset":18.5,"columnPadding":46.5,"padding":0,"labelBaseline":"alphabetic","labelExpr":"datum.value == 1 ? 'Bleeding' : ['Coagulation', 'initiation']"}},
  "stroke":{"field":"b","type":"nominal","scale":{"domain":[1,0],"range":["#03051a","#faebdd"]},"legend":null}
 }},
{"title":"ETP = 1050 nM.min","width":505,"height":523,
 "transform":[{"filter":"datum.e == 1050"}],
 "mark":{"type":"rect","strokeWidth":1},
 "encoding":{
  "x":{"field":"p","type":"ordinal","scale":{"paddingInner":0,"paddingOuter":0},"axis":{"title":"Pressure difference, Δp (N/mm²)","labelExpr":"format(datum.value,'.1f')","labelAngle":-90,"labelOffset":-12.6,"labelPadding":12,"titlePadding":20,"labelOverlap":false}},
  "y":{"field":"d","type":"ordinal","scale":{"paddingInner":0,"paddingOuter":0},"axis":{"title":"injury size δ (mm)","titleY":234,"labelExpr":"format(datum.value,'.1f')","labelOffset":-13.1,"labelPadding":9,"titlePadding":25,"labelOverlap":false}},
  "fill":{"field":"b","type":"nominal","scale":{"domain":[1,0],"range":["#03051a","#faebdd"]},"legend":{"title":null,"orient":"none","legendX":329.5,"legendY":610,"direction":"horizontal","symbolType":"M-0.869,-0.833H0.869V1.43H-0.869Z","symbolSize":7056,"symbolStrokeWidth":0,"symbolOpacity":1,"labelFontSize":31,"labelFont":"DejaVu Sans","labelColor":"#000000","labelLimit":400,"labelOffset":18.5,"columnPadding":46.5,"padding":0,"labelBaseline":"alphabetic","labelExpr":"datum.value == 1 ? 'Bleeding' : ['Coagulation', 'initiation']"}},
  "stroke":{"field":"b","type":"nominal","scale":{"domain":[1,0],"range":["#03051a","#faebdd"]},"legend":null}
 }}
]
}
